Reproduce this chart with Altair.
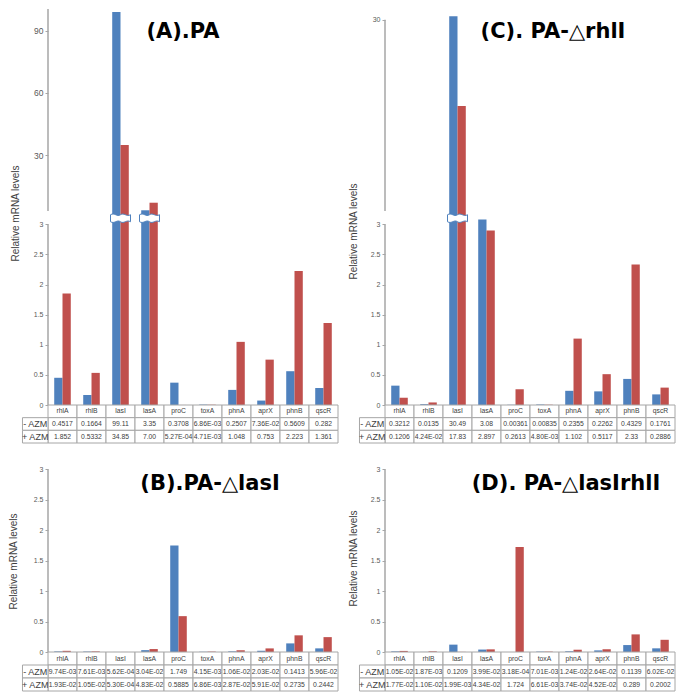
import altair as alt
import pandas as pd

genes = ["rhlA", "rhlB", "lasI", "lasA", "proC", "toxA", "phnA", "aprX", "phnB", "qscR"]
series = ["- AZM", "+ AZM"]

A_minus = ["0.4517", "0.1664", "99.11", "3.35", "0.3708", "6.86E-03", "0.2507", "7.36E-02", "0.5609", "0.282"]
A_plus = ["1.852", "0.5332", "34.85", "7.00", "5.27E-04", "4.71E-03", "1.048", "0.753", "2.223", "1.361"]
C_minus = ["0.3212", "0.0135", "30.49", "3.08", "0.00361", "0.00835", "0.2355", "0.2262", "0.4329", "0.1761"]
C_plus = ["0.1206", "4.24E-02", "17.83", "2.897", "0.2613", "4.80E-03", "1.102", "0.5117", "2.33", "0.2886"]
B_minus = ["9.74E-03", "7.61E-03", "5.62E-04", "3.04E-02", "1.749", "4.15E-03", "1.06E-02", "2.03E-02", "0.1413", "5.96E-02"]
B_plus = ["1.93E-02", "1.05E-02", "5.30E-04", "4.83E-02", "0.5885", "6.86E-03", "2.87E-02", "5.91E-02", "0.2735", "0.2442"]
D_minus = ["1.05E-02", "1.87E-03", "0.1209", "3.99E-02", "3.18E-04", "7.01E-03", "1.24E-02", "2.64E-02", "0.1139", "6.02E-02"]
D_plus = ["1.77E-02", "1.10E-02", "1.99E-03", "4.34E-02", "1.724", "6.61E-03", "3.74E-02", "4.52E-02", "0.289", "0.2002"]

lower_ticks = [0, 0.5, 1, 1.5, 2, 2.5, 3]
A_upper_ticks = [30, 60, 90]
C_upper_ticks = [30]

# ---------------- styles ----------------
BLUE = "#4F81BD"
RED = "#C0504D"
AX = "#a6a6a6"
TXT = "#404040"
LAB = "#595959"
FONT = "Liberation Sans"
W = 290
H_UP, H_LOW, H_TAB, H_LOW2, H_TAB2 = 202, 194, 38, 209, 39
LOW_TOP = 3.22
LOW2_TOP = 3.43
BREAK_AT = 3.1
LABEL_COL = -0.88
BREAK_PATH = ("M-1,-0.35 C-0.6,-0.6 -0.35,-0.1 0,-0.35 C0.35,-0.6 0.6,-0.1 1,-0.35 "
              "L1,0.35 C0.6,0.1 0.35,0.6 0,0.35 C-0.35,0.1 -0.6,0.6 -1,0.35 Z")

color = alt.Color("series:N", scale=alt.Scale(domain=series, range=[BLUE, RED]), legend=None)


def bars_df(minus, plus):
    rows = []
    for g, m, p in zip(genes, minus, plus):
        rows.append({"gene": g, "series": series[0], "v": float(m)})
        rows.append({"gene": g, "series": series[1], "v": float(p)})
    return pd.DataFrame(rows)


def xenc():
    return alt.X("gene:N", sort=genes, scale=alt.Scale(domain=genes, paddingInner=0, paddingOuter=0), axis=None)


def xoff():
    return alt.XOffset("series:N", sort=series,
                       scale=alt.Scale(domain=series, paddingInner=0, paddingOuter=0.75))


def axis_rule(lo, hi, ys, ax):
    return alt.Chart(pd.DataFrame({"v": [lo], "v2": [hi]})).mark_rule(color=AX, strokeWidth=1.5).encode(
        x=alt.value(0), y=alt.Y("v:Q", scale=ys, axis=ax), y2="v2:Q")


def title_layer(text, tx, ty):
    return alt.Chart(pd.DataFrame({"t": [text]})).mark_text(
        font="DejaVu Sans", fontWeight="bold", fontSize=21, align="center",
        baseline="alphabetic", color="black").encode(text="t:N", x=alt.value(tx), y=alt.value(ty))


def upper(minus, plus, domain, ticks, rule_top, title, tx, lab_size):
    ys = alt.Scale(domain=domain, nice=False, zero=False)
    ax = alt.Axis(values=ticks, domain=False, grid=False, tickColor=AX, tickSize=3, tickWidth=1,
                  labelFontSize=lab_size, labelColor=LAB, labelFont=FONT, labelPadding=2, title=None)
    df = bars_df(minus, plus)
    df = df[df["v"] > LOW_TOP].reset_index(drop=True)
    bars = alt.Chart(df).mark_bar(clip=True).encode(
        x=xenc(), xOffset=xoff(), color=color,
        y=alt.Y("v:Q", scale=ys, axis=ax))
    return alt.layer(bars, axis_rule(domain[0], rule_top, ys, ax), title_layer(title, tx, 29)).properties(
        width=W, height=H_UP)


def lower(minus, plus, top, height, tx_title, ty_title, title=None, tpos=None):
    df = bars_df(minus, plus)
    ys = alt.Scale(domain=[0, top], nice=False, zero=False)
    ax = alt.Axis(values=lower_ticks, format="~g", domain=False, grid=False, tickColor=AX, tickSize=3,
                  labelFontSize=7, labelColor=LAB, labelFont=FONT, labelPadding=2,
                  title="Relative mRNA levels", titleFont=FONT, titleFontSize=10, titleFontWeight="normal",
                  titleColor=TXT, titleX=tx_title, titleY=ty_title, titleAngle=270,
                  titleAlign="center", titleBaseline="middle")
    bars = alt.Chart(df).mark_bar(clip=True).encode(
        x=xenc(), xOffset=xoff(), color=color,
        y=alt.Y("v:Q", scale=ys, axis=ax))
    layers = [bars, axis_rule(0, 3, ys, ax)]
    brk = sorted({r.gene for r in df.itertuples() if r.v > top}, key=genes.index)
    if brk:
        bdf = pd.DataFrame({"gene": brk, "v": [BREAK_AT] * len(brk)})
        layers.append(alt.Chart(bdf).mark_point(
            shape=BREAK_PATH, size=400, filled=True, fill="white", stroke=BLUE,
            strokeWidth=1, opacity=1).encode(x=xenc(), y=alt.Y("v:Q", scale=ys, axis=ax)))
    if title:
        layers.append(title_layer(title, tpos[0], tpos[1]))
    return alt.layer(*layers).properties(width=W, height=height)


def table(minus, plus, height):
    rows = ["hdr", "m", "p"]
    cells = []
    for i, g in enumerate(genes):
        for r, t in zip(rows, [g, minus[i], plus[i]]):
            cells.append({"x0": i, "x1": i + 1, "xc": i + 0.5, "r": r, "t": t, "k": "cell"})
    for r, t in zip(rows[1:], series):
        cells.append({"x0": LABEL_COL, "x1": 0, "xc": LABEL_COL / 2, "r": r, "t": t, "k": "lab"})
    df = pd.DataFrame(cells)
    xs = alt.Scale(domain=[0, 10], nice=False, zero=False)
    yenc = alt.Y("r:N", sort=rows, scale=alt.Scale(paddingInner=0, paddingOuter=0), axis=None)
    base = alt.Chart(df)
    rect = base.mark_rect(fill="white", stroke=AX, strokeWidth=1).encode(
        x=alt.X("x0:Q", scale=xs, axis=None), x2="x1:Q", y=yenc)
    txt = base.transform_filter("datum.k == 'cell'").mark_text(
        font=FONT, fontSize=6.8, color=TXT, baseline="middle").encode(
        x=alt.X("xc:Q", scale=xs, axis=None), y=yenc, text="t:N")
    lab = base.transform_filter("datum.k == 'lab'").mark_text(
        font=FONT, fontSize=9, color=TXT, baseline="middle").encode(
        x=alt.X("xc:Q", scale=xs, axis=None), y=yenc, text="t:N")
    return alt.layer(rect, txt, lab).properties(width=W, height=height)


upA = upper(A_minus, A_plus, [3, 100.5], A_upper_ticks, 100.5, "(A).PA", 135, 8.5)
upC = upper(C_minus, C_plus, [3, 31.5], C_upper_ticks, 30, "(C). PA-\u25b3rhlI", 168, 7)
lowA = lower(A_minus, A_plus, LOW_TOP, H_LOW, -33, 2)
lowC = lower(C_minus, C_plus, LOW_TOP, H_LOW, -32, 20)
tabA = table(A_minus, A_plus, H_TAB)
tabC = table(C_minus, C_plus, H_TAB)
lowB = lower(B_minus, B_plus, LOW2_TOP, H_LOW2, -35, 118, "(B).PA-\u25b3lasI", (162, 47))
lowD = lower(D_minus, D_plus, LOW2_TOP, H_LOW2, -32, 115, "(D). PA-\u25b3lasIrhlI", (181, 47))
tabB = table(B_minus, B_plus, H_TAB2)
tabD = table(D_minus, D_plus, H_TAB2)

chart = alt.concat(
    upA, upC, lowA, lowC, tabA, tabC, lowB, lowD, tabB, tabD,
    columns=2, spacing={"row": 0, "column": 47}, align="each", bounds="flush",
).resolve_scale(x="independent", y="independent", xOffset="independent").properties(
    padding=0).configure_view(stroke=None)

chart.save("out.html", embed_options={"renderer": "svg", "actions": False})
